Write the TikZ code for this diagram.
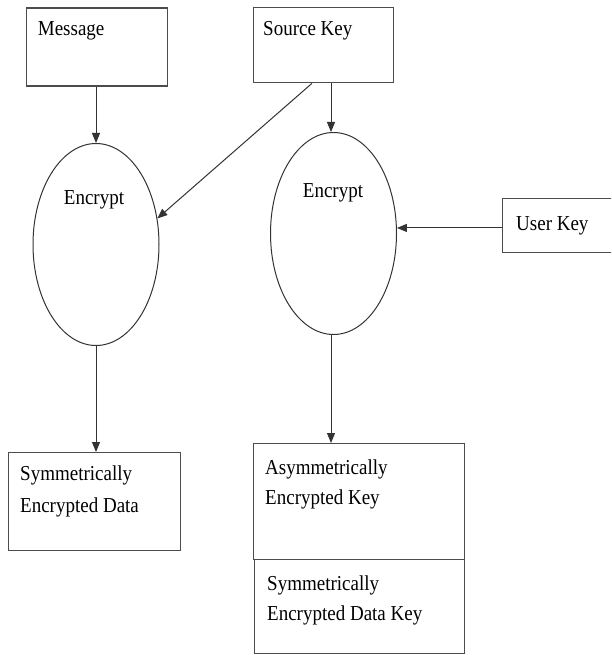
\documentclass[tikz,border=0pt]{standalone}
\usepackage{fontspec}
\setmainfont{Liberation Serif}
\usepackage{graphicx}
\usetikzlibrary{shapes.geometric,arrows.meta,calc}

% slightly tall lettering
\newcommand\tallword[1]{\scalebox{1}[1.12]{#1}}

\begin{document}
\begin{tikzpicture}[x=1pt,y=-1pt,
  box/.style={draw=black!70,line width=1.3pt,rectangle,inner sep=0pt,anchor=north west},
  oval/.style={draw=black!80,line width=1pt,ellipse,inner sep=0pt,
               minimum width=126pt,minimum height=202pt},
  lbl/.style={anchor=base west,inner sep=0pt,font=\fontsize{19}{23}\selectfont,text=black},
  clbl/.style={lbl,anchor=base},
  flow/.style={draw=black!80,line width=1pt,-{Triangle[length=10pt,width=8pt]}}]

\useasboundingbox (0,0) rectangle (611,655);
\clip (0,0) rectangle (611,655);

% boxes
\node[box,minimum width=141pt,minimum height=78pt]  (msg) at (25.5,7.3) {};
\node[box,minimum width=140pt,minimum height=75pt]  (sk)  at (253,7) {};
\node[box,minimum width=130pt,minimum height=54pt]  (uk)  at (502,198) {};
\node[box,minimum width=172pt,minimum height=98pt]  (sd)  at (8,452) {};
\node[box,minimum width=211pt,minimum height=116pt] (ak)  at (253,443) {};
\node[box,minimum width=210pt,minimum height=94pt]  (sdk) at (254,559) {};

% encryption steps
\node[oval] (e1) at (96,244.5) {};
\node[oval] (e2) at (333.5,233.5) {};

% labels
\node[lbl]  (tmsg)  at (37.7,35.5) {\tallword{Message}};
\node[lbl]  (tsk)   at (263,35.5)  {\tallword{Source Key}};
\node[lbl]  (tuk)   at (516,230.5) {\tallword{User Key}};
\node[clbl] (te1)   at (94,204.5)  {\tallword{Encrypt}};
\node[clbl] (te2)   at (333,197.5) {\tallword{Encrypt}};
\node[lbl]  (tsd1)  at (20,480.5)  {\tallword{Symmetrically}};
\node[lbl]  (tsd2)  at (20,512.5)  {\tallword{Encrypted Data}};
\node[lbl]  (tak1)  at (265,474.5) {\tallword{Asymmetrically}};
\node[lbl]  (tak2)  at (265,504.5) {\tallword{Encrypted Key}};
\node[lbl]  (tsdk1) at (267,590.5) {\tallword{Symmetrically}};
\node[lbl]  (tsdk2) at (267,620.5) {\tallword{Encrypted Data Key}};

% connectors
\coordinate (skdiag) at ($(sk.south west)+(59,0)$);
\coordinate (skdown) at ($(sk.south west)+(78,0)$);
\coordinate (e2out)  at ($(e2.south)+(-2.5,0)$);

\draw[flow] (e1.north |- msg.south) -- (e1.north);
\draw[flow] (skdiag) -- (e1.23);
\draw[flow] (skdown) -- (skdown |- e2.north);
\draw[flow] (uk.west |- e2.5) -- (e2.5);
\draw[flow] (e1.south) -- (e1.south |- sd.north);
\draw[flow] (e2out) -- (e2out |- ak.north);
\end{tikzpicture}
\end{document}
